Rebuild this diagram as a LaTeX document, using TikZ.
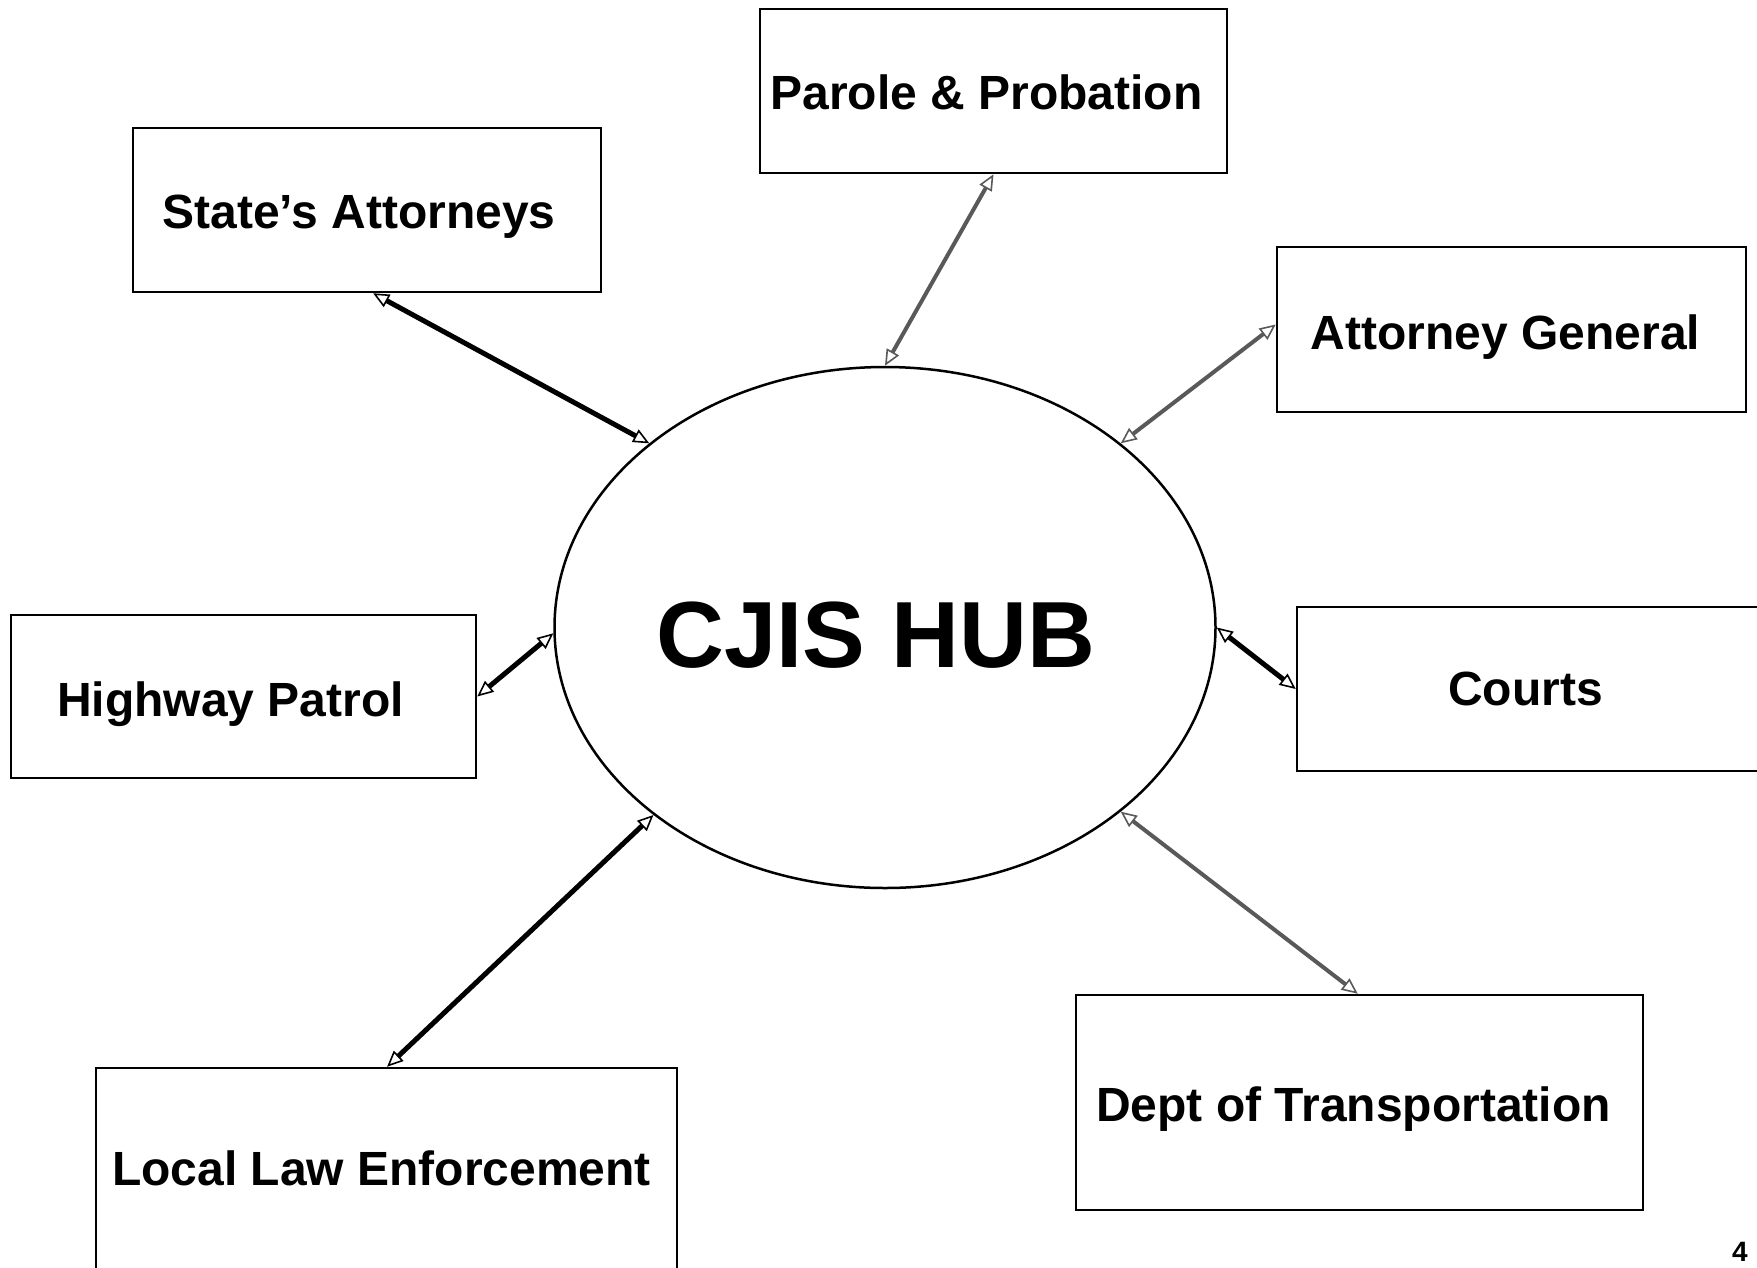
\documentclass[tikz,border=0pt]{standalone}
\usepackage{fontspec}
\setmainfont{Liberation Sans}
\usetikzlibrary{arrows.meta,shapes.geometric,calc}
\tikzset{
  box/.style={draw=black, line width=2.5pt, rectangle, inner sep=0pt},
  boxtext/.style={font=\fontsize{48}{56}\selectfont\bfseries, inner sep=0pt},
  hubshape/.style={draw=black, line width=2.5pt, ellipse, inner sep=0pt,
    minimum width=661pt, minimum height=521pt},
  link/.style={line width=5pt, draw=black,
    {Triangle[open,length=16pt,width=14pt,line width=1.6pt]}-{Triangle[open,length=16pt,width=14pt,line width=1.6pt]}},
  glink/.style={link, draw=black!65, line width=4pt},
}
\begin{document}
\begin{tikzpicture}[x=1pt,y=-1pt]
\useasboundingbox (0,0) rectangle (1757,1267);
\node[hubshape, label={[font=\fontsize{94}{100}\selectfont\bfseries, xshift=-9pt, yshift=-8pt]center:CJIS HUB}] (hub) at (885,627.5) {};

\node[box, minimum width=468pt, minimum height=164pt,
  label={[boxtext, xshift=-8pt, yshift=-7pt]center:State’s Attorneys}] (sa) at (367,210) {};
\node[box, minimum width=467pt, minimum height=164pt,
  label={[boxtext, xshift=-7pt, yshift=-1pt]center:Parole \& Probation}] (pp) at (993.5,91) {};
\node[box, minimum width=469pt, minimum height=165pt,
  label={[boxtext, xshift=-6pt, yshift=-8pt]center:Attorney General}] (ag) at (1511.5,329.5) {};
\node[box, minimum width=465pt, minimum height=163pt,
  label={[boxtext, xshift=-13pt, yshift=-8pt]center:Highway Patrol}] (hp) at (243.5,696.5) {};
\node[box, minimum width=493pt, minimum height=164pt,
  label={[boxtext, xshift=-18pt]center:Courts}] (ct) at (1543.5,689) {};
\node[box, minimum width=581pt, minimum height=207pt,
  label={[boxtext, xshift=-5pt, yshift=3pt]center:Local Law Enforcement}] (ll) at (386.5,1171.5) {};
\node[box, minimum width=567pt, minimum height=215pt,
  label={[boxtext, xshift=-6pt, yshift=-7pt]center:Dept of Transportation}] (dt) at (1359.5,1102.5) {};
\node[font=\fontsize{28}{32}\selectfont\bfseries] (pg) at (1740,1252) {4};

\draw[link] ($(sa.south west)!0.513!(sa.south east)$) -- (hub.142.2);
\draw[glink] ($(pp.south west)!0.5!(pp.south east)$) -- (hub.90);
\draw[glink] ($(ag.south west)!0.53!(ag.north west)$) -- (hub.38.5);
\draw[link] ($(hp.south east)!0.5!(hp.north east)$) -- (hub.181);
\draw[link] ($(ct.south west)!0.5!(ct.north west)$) -- (hub.0);
\draw[link] ($(ll.north west)!0.501!(ll.north east)$) -- (hub.219);
\draw[glink] ($(dt.north west)!0.497!(dt.north east)$) -- (hub.322.3);
\end{tikzpicture}
\end{document}
